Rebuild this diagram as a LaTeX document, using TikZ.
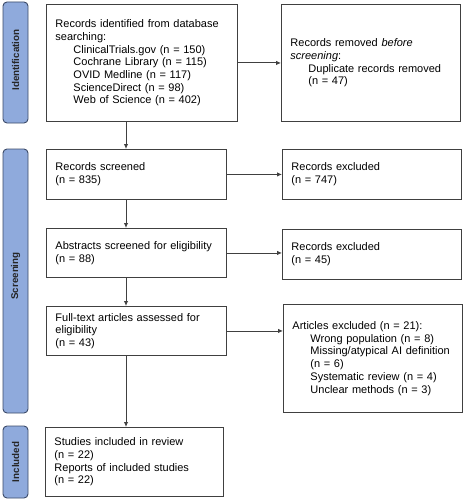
\documentclass[tikz,border=0pt]{standalone}
\usepackage{fontspec}
\setmainfont{Liberation Sans}
\usetikzlibrary{arrows.meta}
\definecolor{barfill}{HTML}{8FAADC}
\definecolor{barline}{HTML}{3B4A68}
\definecolor{ln}{HTML}{404040}
\newcommand\myind{\hspace*{18pt}}
\begin{document}
\begin{tikzpicture}[x=1pt,y=-1pt,
  box/.style={draw=ln, line width=0.9pt, fill=white, inner xsep=9pt, inner ysep=0pt,
    anchor=north west, align=left, font=\fontsize{11}{12.7}\selectfont},
  bar/.style={draw=barline, line width=0.9pt, fill=barfill, rounded corners=4pt},
  barlabel/.style={rotate=90, font=\bfseries\fontsize{9.8}{12}\selectfont, text=black!85},
  arr/.style={draw=ln, line width=0.9pt, -{Latex[length=5pt,width=4.5pt]}}]
\useasboundingbox (0,0) rectangle (464,500);
% phase bars
\draw[bar] (3,2) rectangle (28,123);
\draw[bar] (3,149) rectangle (28,413);
\draw[bar] (3,426) rectangle (28,498);
\node[barlabel] (lid) at (15.5,60) {Identification};
\node[barlabel] (lsc) at (15.5,276) {Screening};
\node[barlabel] (lin) at (15.5,462) {Included};
% left column
\node[box, text width=173pt, minimum height=117pt] (b1) at (46,4) {Records identified from database\\searching:\\\myind ClinicalTrials.gov (n = 150)\\\myind Cochrane Library (n = 115)\\\myind OVID Medline (n = 117)\\\myind ScienceDirect (n = 98)\\\myind Web of Science (n = 402)};
\node[box, text width=162pt, minimum height=50pt] (b2) at (46,149) {Records screened\\(n = 835)};
\node[box, text width=162pt, minimum height=49pt] (b3) at (46,228) {Abstracts screened for eligibility\\(n = 88)};
\node[box, text width=162pt, minimum height=49pt] (b4) at (46,306) {Full-text articles assessed for\\eligibility\\(n = 43)};
\node[box, text width=160pt, minimum height=69pt] (b5) at (45,427) {Studies included in review\\(n = 22)\\Reports of included studies\\(n = 22)};
% right column
\node[box, text width=161pt, minimum height=117pt] (r1) at (281,4) {Records removed \textit{before}\\\textit{screening}:\\\myind Duplicate records removed\\\myind (n = 47)};
\node[box, text width=161pt, minimum height=50pt] (r2) at (282,149) {Records excluded\\(n = 747)};
\node[box, text width=161pt, minimum height=50pt] (r3) at (282,229) {Records excluded\\(n = 45)};
\node[box, text width=161pt, minimum height=108pt] (r4) at (283,304) {Articles excluded (n = 21):\\\myind Wrong population (n = 8)\\\myind Missing/atypical AI definition\\\myind (n = 6)\\\myind Systematic review (n = 4)\\\myind Unclear methods (n = 3)};
% connectors
\coordinate (ax) at (126,0);
\draw[arr] (b1.south -| ax) -- (b2.north -| ax);
\draw[arr] (b2.south -| ax) -- (b3.north -| ax);
\draw[arr] (b3.south -| ax) -- (b4.north -| ax);
\draw[arr] (b4.south -| ax) -- (b5.north -| ax);
\draw[arr] (b1.east) -- (b1.east -| r1.west);
\draw[arr] (b2.east) -- (b2.east -| r2.west);
\draw[arr] (b3.east) -- (b3.east -| r3.west);
\draw[arr] (b4.east) -- (b4.east -| r4.west);
\end{tikzpicture}
\end{document}
